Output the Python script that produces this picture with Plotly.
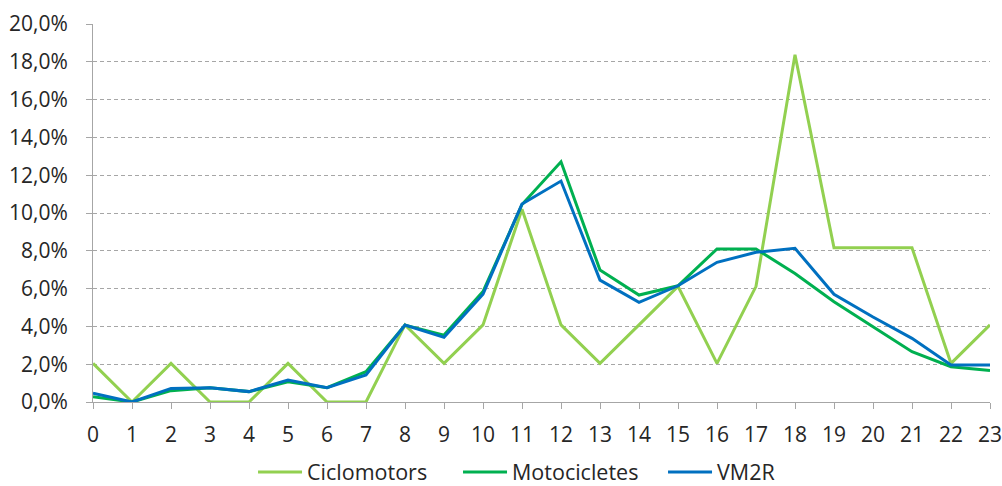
import plotly.graph_objects as go

# Hour of day and share (%) of each vehicle type per hour
hours = list(range(24))
ciclomotors = [2.04, 0, 2.04, 0, 0, 2.04, 0, 0, 4.08, 2.04, 4.08, 10.2,
               4.08, 2.04, 4.08, 6.12, 2.04, 6.12, 18.37, 8.16, 8.16, 8.16, 2.04, 4.08]
motocicletes = [0.28, 0, 0.6, 0.76, 0.55, 1.07, 0.76, 1.6, 4.07, 3.54, 5.84, 10.45,
                12.71, 6.98, 5.66, 6.15, 8.1, 8.1, 6.8, 5.3, 3.98, 2.66, 1.87, 1.66]
vm2r = [0.46, 0, 0.72, 0.76, 0.55, 1.16, 0.76, 1.43, 4.07, 3.42, 5.7, 10.48,
        11.69, 6.45, 5.27, 6.15, 7.39, 7.92, 8.13, 5.7, 4.5, 3.37, 1.96, 1.96]
y_ticks = list(range(0, 21, 2))
y_tick_labels = ["0,0%", "2,0%", "4,0%", "6,0%", "8,0%", "10,0%",
                 "12,0%", "14,0%", "16,0%", "18,0%", "20,0%"]

series = [
    ("Ciclomotors", ciclomotors, "#92D050"),
    ("Motocicletes", motocicletes, "#00B050"),
    ("VM2R", vm2r, "#0070C0"),
]

FONT = "Open Sans"
TEXT = "#262626"
AXIS = "#A6A6A6"

fig = go.Figure()
for name, values, color in series:
    fig.add_trace(go.Scatter(
        x=hours, y=values, name=name, mode="lines",
        line=dict(color=color, width=3),
    ))

fig.update_layout(
    width=1002, height=486,
    margin=dict(l=93, r=12, t=24, b=84, autoexpand=False),
    paper_bgcolor="white", plot_bgcolor="white",
    font=dict(family=FONT, size=21, color=TEXT),
    showlegend=True,
    legend=dict(
        orientation="h", x=0.1784, xanchor="left", y=-0.185, yanchor="middle",
        font=dict(family=FONT, size=21.5, color=TEXT),
        itemwidth=44,
        entrywidth=146, entrywidthmode="pixels",
        bgcolor="rgba(0,0,0,0)",
    ),
)

fig.update_xaxes(
    range=[0, 23], tickmode="array", tickvals=hours,
    ticktext=[str(h) for h in hours],
    showgrid=False, zeroline=False,
    showline=True, linecolor=AXIS, linewidth=1,
    ticks="outside", ticklen=6, tickcolor=AXIS, tickwidth=1,
    ticklabelstandoff=8, ticklabeloverflow="allow",
)
fig.update_yaxes(
    range=[0, 20], tickmode="array", tickvals=y_ticks, ticktext=y_tick_labels,
    showgrid=True, gridcolor="#A6A6A6", gridwidth=1, griddash="4px,3px",
    zeroline=False,
    showline=True, linecolor=AXIS, linewidth=1,
    ticks="outside", ticklen=6, tickcolor=AXIS, tickwidth=1,
    ticklabelstandoff=14, ticklabeloverflow="allow",
)

fig.write_html("out.html")
